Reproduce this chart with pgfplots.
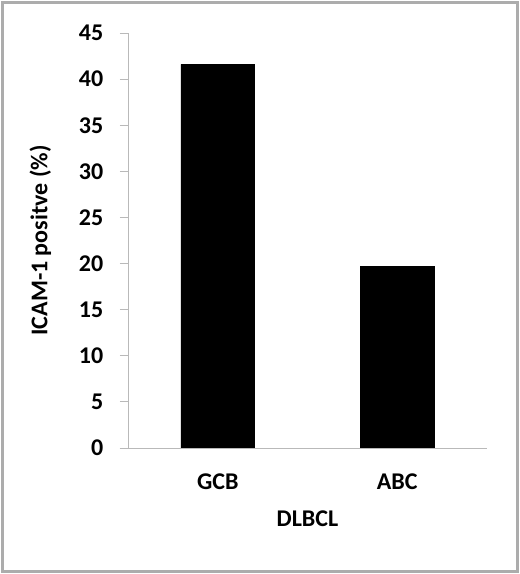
\documentclass[border=0pt]{standalone}
\usepackage{fontspec}
\setmainfont{Carlito}
\usepackage{pgfplots}
\pgfplotsset{compat=1.18}

\newcommand{\chartfont}{\fontsize{18}{21}\selectfont\bfseries}

\begin{document}
\begin{tikzpicture}
  % outer frame of the figure
  \useasboundingbox[fill=white] (-96pt,-94.5pt) rectangle (294pt,336pt);
  \draw[gray!65, line width=2.4pt] (-94pt,-92.5pt) rectangle (292pt,334pt);
  \begin{axis}[
      at={(0,0)}, anchor=south west,
      scale only axis,
      width=269.25pt, height=311.25pt,
      xmin=-0.5, xmax=1.5,
      ymin=0, ymax=45,
      ytick={0,5,...,45},
      xtick={0,1}, xticklabels={GCB,ABC},
      axis x line=bottom, axis y line=left,
      axis line style={gray!55, -},
      x axis line style={shorten <=-6pt},
      y tick style={gray!55, line width=0.6pt},
      major tick length=6pt,
      tick align=outside,
      x tick style={draw=none},
      ytick pos=left,
      tick label style={font=\chartfont},
      label style={font=\chartfont},
      /pgf/number format/assume math mode=true,
      yticklabel style={xshift=-9pt},
      xticklabel style={yshift=-10pt},
      xlabel={DLBCL},
      ylabel={ICAM-1 positve (\%)},
      xlabel style={yshift=-9pt},
      ylabel style={yshift=14pt},
      ybar, bar width=0.41,
    ]
    \addplot[fill=black, draw=black] coordinates {(0,41.6) (1,19.7)};
  \end{axis}
\end{tikzpicture}
\end{document}
